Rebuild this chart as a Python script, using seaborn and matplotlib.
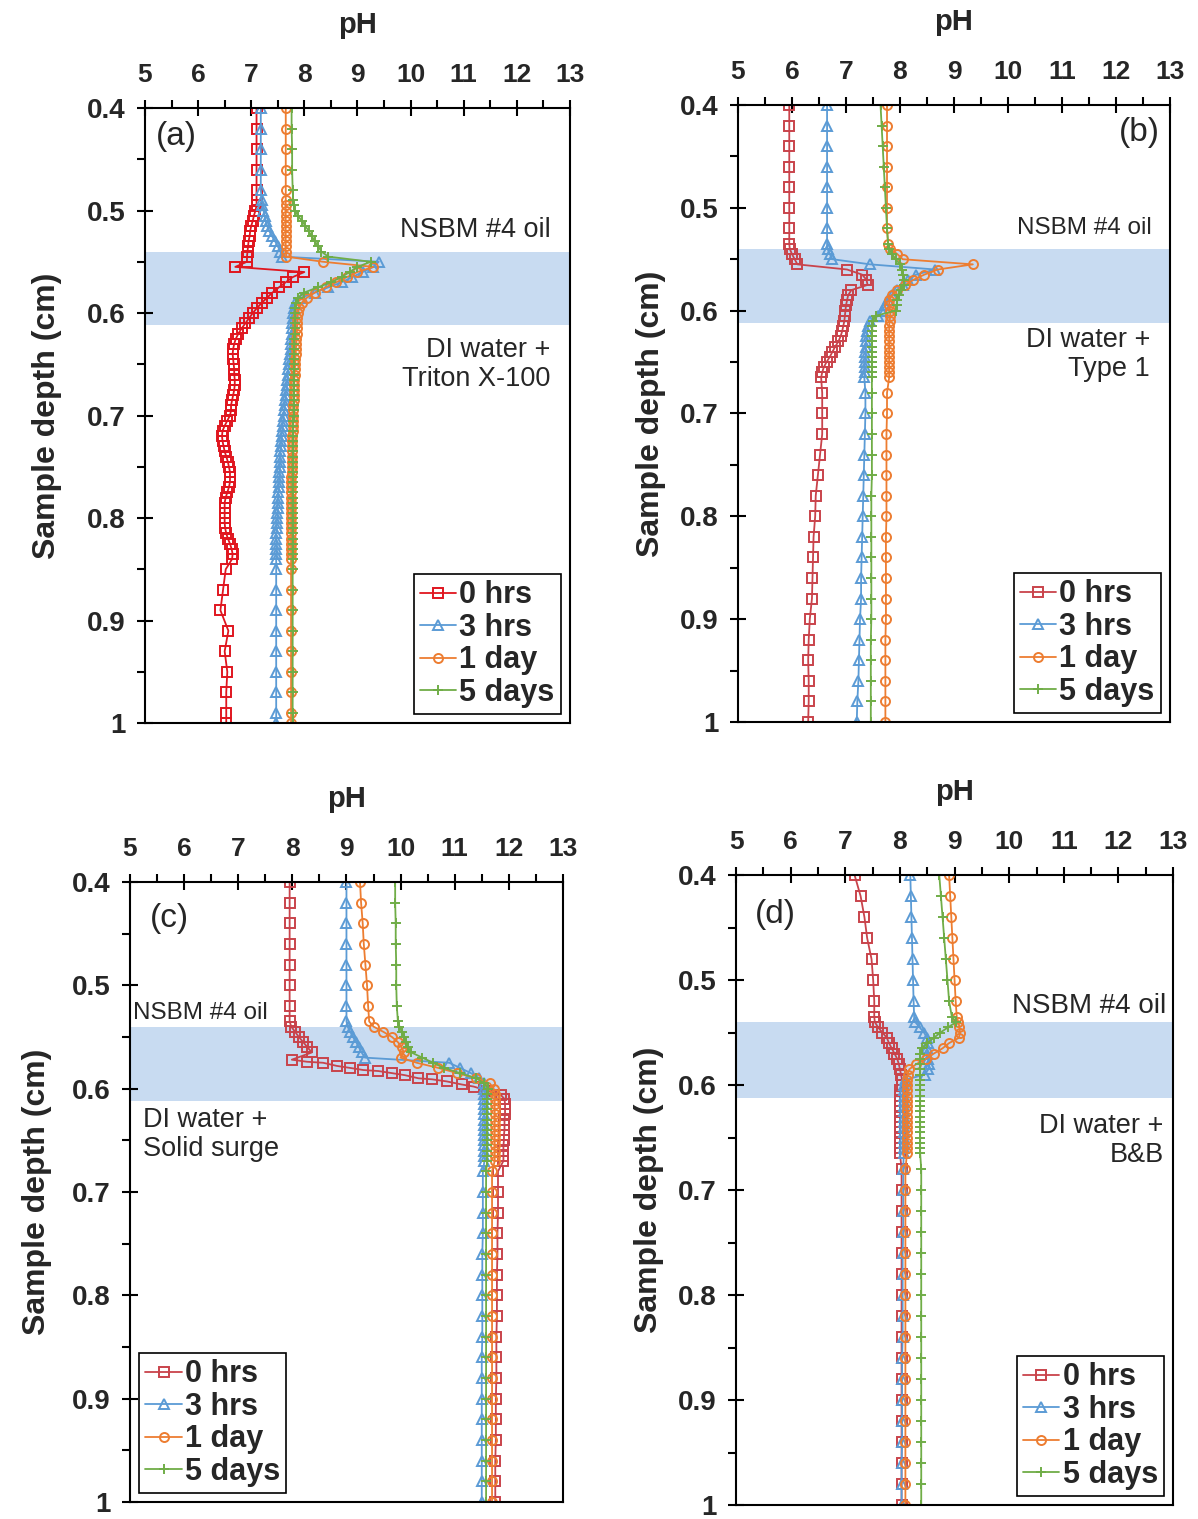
import matplotlib
matplotlib.use('Agg')
import matplotlib.pyplot as plt
import seaborn as sns
from matplotlib.ticker import MultipleLocator

# depth grids (cm) and pH readings, one list per series
a_depth = [0.40, 0.42, 0.44, 0.46, 0.48,
           0.490, 0.495, 0.500, 0.505, 0.510, 0.515, 0.520, 0.525, 0.530, 0.535,
           0.540, 0.545, 0.550, 0.555, 0.560, 0.565, 0.570, 0.575, 0.580, 0.585,
           0.590, 0.595, 0.600, 0.605, 0.610, 0.615, 0.620, 0.625, 0.630, 0.635,
           0.640, 0.645, 0.650, 0.655, 0.660, 0.665, 0.670, 0.675, 0.680, 0.685,
           0.690, 0.695, 0.700, 0.705, 0.710, 0.715, 0.720, 0.725, 0.730, 0.735,
           0.740, 0.745, 0.750, 0.755, 0.760, 0.765, 0.770, 0.775, 0.780, 0.785,
           0.790, 0.795, 0.800, 0.805, 0.810, 0.815, 0.820, 0.825, 0.830, 0.835,
           0.840,
           0.85, 0.87, 0.89, 0.91, 0.93, 0.95, 0.97, 0.99, 1.00]
a_0h = [7.10, 7.10, 7.10, 7.10, 7.10,
        7.10, 7.10, 7.08, 7.05, 7.03, 7.00, 6.98, 6.97, 6.95, 6.94,
        6.93, 6.92, 6.92, 6.70, 8.00, 7.78, 7.65, 7.52, 7.40, 7.30,
        7.20, 7.11, 7.03, 6.96, 6.89, 6.82, 6.76, 6.71, 6.68, 6.66,
        6.65, 6.66, 6.67, 6.68, 6.68, 6.69, 6.69, 6.68, 6.66, 6.64,
        6.62, 6.62, 6.60, 6.55, 6.50, 6.46, 6.45, 6.46, 6.48, 6.50,
        6.53, 6.56, 6.58, 6.60, 6.60, 6.60, 6.58, 6.55, 6.52, 6.50,
        6.50, 6.50, 6.50, 6.50, 6.51, 6.53, 6.56, 6.60, 6.63, 6.65,
        6.64,
        6.52, 6.47, 6.42, 6.57, 6.50, 6.55, 6.53, 6.53, 6.53]
a_3h = [7.18, 7.18, 7.18, 7.18, 7.18,
        7.20, 7.21, 7.23, 7.25, 7.27, 7.30, 7.34, 7.39, 7.45, 7.50,
        7.55, 7.58, 9.40, 9.30, 9.10, 8.90, 8.70, 8.45, 8.20, 7.95,
        7.82, 7.80, 7.79, 7.78, 7.77, 7.77, 7.76, 7.75, 7.74, 7.74,
        7.73, 7.72, 7.71, 7.70, 7.69, 7.68, 7.67, 7.66, 7.65, 7.64,
        7.63, 7.62, 7.61, 7.60, 7.59, 7.58, 7.57, 7.56, 7.56, 7.55,
        7.55, 7.54, 7.54, 7.53, 7.53, 7.52, 7.52, 7.51, 7.51, 7.50,
        7.50, 7.49, 7.49, 7.48, 7.48, 7.47, 7.47, 7.47, 7.47, 7.47,
        7.47,
        7.47, 7.47, 7.47, 7.47, 7.47, 7.47, 7.47, 7.47, 7.47]
a_1d = [7.65, 7.65, 7.65, 7.65, 7.65,
        7.65, 7.65, 7.65, 7.65, 7.65, 7.65, 7.65, 7.65, 7.65, 7.65,
        7.65, 7.66, 8.35, 9.30, 9.00, 8.80, 8.60, 8.40, 8.20, 8.05,
        7.95, 7.90, 7.88, 7.87, 7.87, 7.86, 7.86, 7.85, 7.85, 7.84,
        7.84, 7.83, 7.83, 7.82, 7.82, 7.81, 7.81, 7.80, 7.80, 7.80,
        7.79, 7.79, 7.79, 7.78, 7.78, 7.78, 7.77, 7.77, 7.77, 7.77,
        7.76, 7.76, 7.76, 7.76, 7.75, 7.75, 7.75, 7.75, 7.75, 7.75,
        7.75, 7.75, 7.75, 7.75, 7.75, 7.75, 7.75, 7.75, 7.75, 7.75,
        7.75,
        7.75, 7.75, 7.75, 7.75, 7.75, 7.75, 7.75, 7.75, 7.75]
a_5d = [7.76, 7.76, 7.77, 7.77, 7.78,
        7.79, 7.80, 7.82, 7.88, 7.95, 8.02, 8.08, 8.14, 8.20, 8.26,
        8.32, 8.45, 9.25, 9.00, 8.85, 8.70, 8.50, 8.25, 8.00, 7.88,
        7.84, 7.82, 7.82, 7.82, 7.82, 7.82, 7.82, 7.81, 7.81, 7.81,
        7.81, 7.81, 7.81, 7.80, 7.80, 7.80, 7.80, 7.80, 7.80, 7.80,
        7.80, 7.80, 7.80, 7.79, 7.79, 7.79, 7.79, 7.79, 7.79, 7.79,
        7.79, 7.79, 7.79, 7.79, 7.79, 7.78, 7.78, 7.78, 7.78, 7.78,
        7.78, 7.78, 7.78, 7.78, 7.78, 7.78, 7.78, 7.78, 7.78, 7.78,
        7.78,
        7.78, 7.78, 7.78, 7.78, 7.78, 7.78, 7.78, 7.78, 7.78]

b_depth = [0.40, 0.42, 0.44, 0.46, 0.48, 0.50, 0.52,
           0.535, 0.540, 0.545, 0.550, 0.555, 0.560, 0.565, 0.570, 0.575, 0.580,
           0.585, 0.590, 0.595, 0.600, 0.605, 0.610, 0.615, 0.620, 0.625, 0.630,
           0.635, 0.640, 0.645, 0.650, 0.655, 0.660, 0.665,
           0.68, 0.70, 0.72, 0.74, 0.76, 0.78, 0.80, 0.82, 0.84,
           0.86, 0.88, 0.90, 0.92, 0.94, 0.96, 0.98, 1.00]
b_0h = [5.95, 5.95, 5.95, 5.95, 5.95, 5.95, 5.95,
        5.95, 5.96, 6.00, 6.05, 6.10, 7.02, 7.30, 7.38, 7.40, 7.10,
        7.04, 7.02, 7.00, 6.99, 6.98, 6.97, 6.95, 6.93, 6.90, 6.86,
        6.80, 6.75, 6.70, 6.64, 6.59, 6.56, 6.54,
        6.56, 6.56, 6.56, 6.52, 6.48, 6.44, 6.43, 6.40, 6.39,
        6.38, 6.37, 6.33, 6.31, 6.30, 6.31, 6.31, 6.30]
b_3h = [6.65, 6.65, 6.65, 6.65, 6.65, 6.65, 6.65,
        6.65, 6.66, 6.70, 6.75, 7.45, 8.65, 8.30, 8.15, 8.05, 7.95,
        7.85, 7.78, 7.72, 7.67, 7.60, 7.45, 7.40, 7.39, 7.38, 7.37,
        7.37, 7.36, 7.36, 7.35, 7.35, 7.35, 7.34,
        7.36, 7.36, 7.35, 7.34, 7.33, 7.32, 7.31, 7.30, 7.29,
        7.28, 7.28, 7.26, 7.25, 7.24, 7.23, 7.21, 7.20]
b_1d = [7.76, 7.76, 7.76, 7.76, 7.76, 7.76, 7.76,
        7.78, 7.82, 7.95, 8.05, 9.35, 8.70, 8.45, 8.25, 8.10, 7.95,
        7.85, 7.80, 7.80, 7.82, 7.82, 7.81, 7.80, 7.80, 7.80, 7.80,
        7.80, 7.80, 7.80, 7.80, 7.80, 7.80, 7.80,
        7.76, 7.76, 7.75, 7.75, 7.75, 7.75, 7.75, 7.74, 7.74,
        7.74, 7.74, 7.74, 7.73, 7.73, 7.73, 7.73, 7.73]
b_5d = [7.64, 7.66, 7.68, 7.70, 7.72, 7.74, 7.76,
        7.78, 7.80, 7.85, 7.92, 8.00, 8.04, 8.06, 8.08, 8.07, 8.02,
        7.98, 7.95, 7.94, 7.92, 7.55, 7.50, 7.49, 7.48, 7.48, 7.48,
        7.48, 7.48, 7.48, 7.48, 7.48, 7.48, 7.48,
        7.48, 7.48, 7.48, 7.48, 7.48, 7.47, 7.47, 7.47, 7.47,
        7.47, 7.47, 7.47, 7.46, 7.46, 7.46, 7.46, 7.46]

c_depth = [0.40, 0.42, 0.44, 0.46, 0.48, 0.50, 0.52,
           0.535, 0.540, 0.545, 0.550, 0.555, 0.560, 0.565, 0.570, 0.575, 0.580,
           0.585, 0.590, 0.595, 0.600, 0.605, 0.610, 0.615, 0.620, 0.625, 0.630,
           0.635, 0.640, 0.645, 0.650, 0.655, 0.660, 0.665, 0.670,
           0.68, 0.70, 0.72, 0.74, 0.76, 0.78, 0.80, 0.82, 0.84,
           0.86, 0.88, 0.90, 0.92, 0.94, 0.96, 0.98, 1.00]
c_0h_depth = [0.40, 0.42, 0.44, 0.46, 0.48, 0.50, 0.52,
              0.535, 0.540, 0.545, 0.550, 0.555, 0.560, 0.565,
              0.572, 0.574, 0.575, 0.578, 0.580, 0.582, 0.583,
              0.585, 0.587, 0.590, 0.591, 0.593, 0.596, 0.598,
              0.602, 0.606, 0.610, 0.615, 0.620, 0.625, 0.630, 0.635,
              0.640, 0.645, 0.650, 0.655, 0.660, 0.665, 0.670,
              0.68, 0.70, 0.72, 0.74, 0.76, 0.78, 0.80, 0.82, 0.84,
              0.86, 0.88, 0.90, 0.92, 0.94, 0.96, 0.98, 1.00]
c_0h = [7.95, 7.95, 7.95, 7.95, 7.95, 7.95, 7.95,
        7.95, 7.98, 8.05, 8.12, 8.20, 8.28, 8.36,
        7.99, 8.27, 8.57, 8.82, 9.07, 9.31, 9.59,
        9.84, 10.08, 10.33, 10.58, 10.85, 11.13, 11.35,
        11.60, 11.85, 11.92, 11.93, 11.93, 11.93, 11.92, 11.92,
        11.92, 11.91, 11.91, 11.90, 11.90, 11.90, 11.90,
        11.80, 11.80, 11.80, 11.79, 11.79, 11.78, 11.78, 11.78, 11.77,
        11.77, 11.77, 11.76, 11.76, 11.76, 11.75, 11.75, 11.75]
c_3h = [9.00, 9.00, 9.00, 9.00, 9.00, 9.00, 9.00,
        9.00, 9.02, 9.07, 9.12, 9.18, 9.23, 9.28, 9.34, 10.90, 11.10,
        11.30, 11.45, 11.55, 11.55, 11.55, 11.55, 11.55, 11.55, 11.55, 11.55,
        11.55, 11.55, 11.55, 11.55, 11.55, 11.55, 11.55, 11.55,
        11.52, 11.52, 11.52, 11.52, 11.51, 11.51, 11.51, 11.51, 11.51,
        11.50, 11.50, 11.50, 11.50, 11.50, 11.50, 11.50, 11.50]
c_1d = [9.25, 9.27, 9.30, 9.32, 9.35, 9.38, 9.40,
        9.42, 9.50, 9.68, 9.84, 9.95, 10.02, 10.06, 10.00, 10.30, 10.70,
        11.05, 11.40, 11.65, 11.72, 11.74, 11.74, 11.74, 11.74, 11.74, 11.74,
        11.74, 11.74, 11.74, 11.74, 11.74, 11.74, 11.74, 11.74,
        11.69, 11.69, 11.69, 11.69, 11.69, 11.69, 11.69, 11.69, 11.69,
        11.69, 11.69, 11.69, 11.69, 11.69, 11.69, 11.69, 11.69]
c_5d = [9.90, 9.90, 9.91, 9.91, 9.92, 9.92, 9.93,
        9.95, 9.98, 10.02, 10.06, 10.10, 10.14, 10.20, 10.40, 10.60, 10.80,
        11.10, 11.40, 11.55, 11.62, 11.60, 11.60, 11.60, 11.60, 11.60, 11.60,
        11.60, 11.60, 11.60, 11.60, 11.60, 11.60, 11.60, 11.60,
        11.58, 11.58, 11.58, 11.58, 11.58, 11.58, 11.58, 11.58, 11.58,
        11.58, 11.58, 11.58, 11.58, 11.58, 11.58, 11.58, 11.58]

d_depth = b_depth
d_0h = [7.17, 7.28, 7.35, 7.40, 7.48, 7.51, 7.53,
        7.53, 7.54, 7.60, 7.68, 7.76, 7.80, 7.85, 7.90, 7.95, 7.98,
        8.00, 8.02, 8.04, 8.03, 8.01, 8.00, 8.00, 8.00, 8.00, 8.00,
        8.00, 8.00, 8.00, 8.00, 8.00, 8.00, 8.00,
        8.03, 8.03, 8.03, 8.03, 8.03, 8.03, 8.03, 8.03, 8.03,
        8.03, 8.03, 8.03, 8.03, 8.03, 8.03, 8.03, 8.03]
d_3h = [8.19, 8.20, 8.21, 8.22, 8.23, 8.24, 8.25,
        8.26, 8.28, 8.36, 8.44, 8.50, 8.52, 8.50, 8.50, 8.52, 8.54,
        8.52, 8.45, 8.10, 8.08, 8.07, 8.07, 8.07, 8.07, 8.07, 8.07,
        8.07, 8.07, 8.07, 8.07, 8.07, 8.07, 8.07,
        8.06, 8.06, 8.06, 8.06, 8.05, 8.05, 8.05, 8.05, 8.05,
        8.04, 8.04, 8.04, 8.04, 8.04, 8.03, 8.03, 8.03]
d_1d = [8.90, 8.92, 8.94, 8.96, 8.98, 9.00, 9.02,
        9.04, 9.07, 9.09, 9.10, 9.08, 8.90, 8.78, 8.62, 8.48, 8.30,
        8.17, 8.14, 8.13, 8.13, 8.13, 8.13, 8.13, 8.13, 8.13, 8.13,
        8.13, 8.13, 8.13, 8.13, 8.13, 8.13, 8.13,
        8.10, 8.10, 8.10, 8.10, 8.10, 8.10, 8.10, 8.10, 8.10,
        8.10, 8.10, 8.10, 8.10, 8.10, 8.10, 8.10, 8.10]
d_5d = [8.72, 8.75, 8.78, 8.81, 8.84, 8.87, 8.90,
        8.95, 9.03, 8.88, 8.74, 8.62, 8.50, 8.40, 8.37, 8.37, 8.37,
        8.37, 8.37, 8.37, 8.37, 8.37, 8.37, 8.37, 8.37, 8.37, 8.37,
        8.37, 8.37, 8.37, 8.37, 8.37, 8.37, 8.37,
        8.39, 8.39, 8.39, 8.39, 8.39, 8.39, 8.39, 8.39, 8.39,
        8.39, 8.39, 8.39, 8.39, 8.39, 8.39, 8.39, 8.39]

series_labels = ['0 hrs', '3 hrs', '1 day', '5 days']
depth_ticks = [0.4, 0.5, 0.6, 0.7, 0.8, 0.9, 1.0]
depth_tick_labels = ['0.4', '0.5', '0.6', '0.7', '0.8', '0.9', '1']
ph_ticks = [5, 6, 7, 8, 9, 10, 11, 12, 13]

sns.set_theme(style='white')
plt.rcParams['font.family'] = ['Liberation Sans', 'DejaVu Sans']

markers = ['s', '^', 'o', '+']
colors_a = ['#E0161F', '#5B9BD5', '#ED7D31', '#70AD47']
colors = ['#C9434B', '#5B9BD5', '#ED7D31', '#70AD47']


def draw_panel(ax, depths, phs, cols, tag, tag_pos, tag_ha, oil_pos, oil_ha, oil_fs,
               water, water_pos, water_ha, leg_loc, ylab_pad):
    ax.axhspan(0.54, 0.612, color='#C8DBF1', lw=0, zorder=0)
    for d, p, c, m, lab in zip(depths, phs, cols, markers, series_labels):
        sns.lineplot(x=p, y=d, sort=False, estimator=None, ax=ax, color=c,
                     marker=m, markersize=7.5 if m == '+' else 6.5, mfc='none',
                     mec=c, mew=1.4, lw=1.3, label=lab)
    ax.set_xlim(5, 13)
    ax.set_ylim(1.0, 0.4)
    ax.xaxis.tick_top()
    ax.xaxis.set_label_position('top')
    ax.set_xticks(ph_ticks)
    ax.xaxis.set_minor_locator(MultipleLocator(0.5))
    ax.set_yticks(depth_ticks)
    ax.set_yticklabels(depth_tick_labels)
    ax.yaxis.set_minor_locator(MultipleLocator(0.05))
    ax.tick_params(which='both', top=True, bottom=False, left=True, right=False,
                   labeltop=True, labelbottom=False, color='black', width=1.5)
    ax.tick_params(which='major', direction='inout', length=12)
    ax.tick_params(which='minor', direction='out', length=6)
    ax.tick_params(axis='x', which='major', labelsize=19, pad=9)
    ax.tick_params(axis='y', which='major', labelsize=20, pad=8)
    for t in ax.get_xticklabels() + ax.get_yticklabels():
        t.set_fontweight('bold')
    for s in ax.spines.values():
        s.set_visible(True)
        s.set_color('black')
        s.set_linewidth(1.5)
    ax.set_xlabel('pH', fontsize=21, fontweight='bold', labelpad=22)
    ax.set_ylabel('Sample depth (cm)', fontsize=23, fontweight='bold', labelpad=ylab_pad)
    ax.text(tag_pos[0], tag_pos[1], tag, fontsize=24, ha=tag_ha, va='center')
    ax.text(oil_pos[0], oil_pos[1], 'NSBM #4 oil', fontsize=oil_fs, ha=oil_ha, va='center')
    ax.text(water_pos[0], water_pos[1], water, fontsize=19.5, ha=water_ha, va='center',
            multialignment=water_ha, linespacing=1.15)
    leg = ax.legend(loc=leg_loc, prop={'weight': 'bold', 'size': 22}, frameon=True,
                    fancybox=False, edgecolor='black', framealpha=1,
                    handlelength=1.2, handletextpad=0.1, labelspacing=0.08,
                    borderpad=0.2, borderaxespad=0.3)
    leg.get_frame().set_linewidth(1.2)


fig = plt.figure(figsize=(11.98, 15.19), dpi=100)
ax_a = fig.add_axes([0.1210, 0.5240, 0.3548, 0.4049])
ax_b = fig.add_axes([0.6160, 0.5247, 0.3606, 0.4062])
ax_c = fig.add_axes([0.1085, 0.0112, 0.3614, 0.4082])
ax_d = fig.add_axes([0.6144, 0.0092, 0.3648, 0.4147])

draw_panel(ax_a, [a_depth] * 4, [a_0h, a_3h, a_1d, a_5d], colors_a,
           '(a)', (5.2, 0.428), 'left', (12.63, 0.519), 'right', 19.5,
           'DI water +\nTriton X-100', (12.63, 0.65), 'right', 'lower right', 18)
draw_panel(ax_b, [b_depth] * 4, [b_0h, b_3h, b_1d, b_5d], colors,
           '(b)', (12.81, 0.427), 'right', (12.67, 0.52), 'right', 17.5,
           'DI water +\nType 1', (12.63, 0.643), 'right', 'lower right', 10)
draw_panel(ax_c, [c_0h_depth, c_depth, c_depth, c_depth], [c_0h, c_3h, c_1d, c_5d], colors,
           '(c)', (5.37, 0.435), 'left', (5.06, 0.527), 'left', 17.5,
           'DI water +\nSolid surge', (5.24, 0.644), 'left', 'lower left', 14)
draw_panel(ax_d, [d_depth] * 4, [d_0h, d_3h, d_1d, d_5d], colors,
           '(d)', (5.35, 0.438), 'left', (12.87, 0.525), 'right', 20,
           'DI water +\nB&B', (12.83, 0.653), 'right', 'lower right', 10)

fig.savefig('out.png', dpi=100)
